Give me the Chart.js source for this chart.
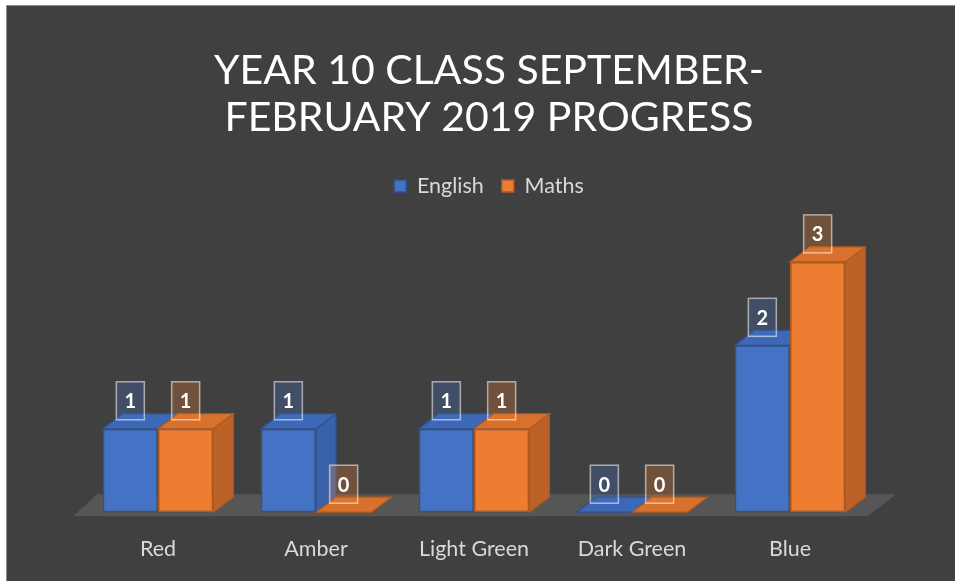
<!DOCTYPE html>
<html>
<head>
<meta charset="utf-8">
<script src="https://cdn.jsdelivr.net/npm/chart.js@4.4.0/dist/chart.umd.min.js"></script>
<style>
  html, body { margin: 0; background: #fff; overflow: hidden; }
  #frame {
    position: absolute; left: 6px; top: 5px;
    width: 965px; height: 576px;
    background: #404040;
    border-top: 1px solid #8c8c8c;
    border-left: 1px solid #8c8c8c;
  }
  #box { position: relative; width: 964px; height: 575px; }
</style>
</head>
<body>
<div id="frame"><div id="box"><canvas id="chart"></canvas></div></div>
<script>
// data
const categories = ['Red', 'Amber', 'Light Green', 'Dark Green', 'Blue'];
const english = [1, 1, 1, 0, 2];
const maths = [1, 0, 1, 0, 3];
const titleLines = ['YEAR 10 CLASS SEPTEMBER-', 'FEBRUARY 2019 PROGRESS'];

// colours for the 3d faces, per series
const front = ['#4472C4', '#ED7D31'];
const edge = ['#2F528F', '#AE5A21'];
const side = ['#3A62A9', '#BD6227'];
const top3d = ['#3D68B8', '#D8712C'];
const labelFill = ['rgba(68,114,196,0.28)', 'rgba(237,125,49,0.28)'];

const dx = 20, dy = 15;

function poly(ctx, pts, fill, stroke) {
    ctx.beginPath();
    ctx.moveTo(pts[0][0], pts[0][1]);
    for (let k = 1; k < pts.length; k++) ctx.lineTo(pts[k][0], pts[k][1]);
    ctx.closePath();
    ctx.fillStyle = fill;
    ctx.fill();
    if (stroke) {
        ctx.strokeStyle = stroke;
        ctx.lineWidth = 1.2;
        ctx.stroke();
    }
}

// floor + side/top faces, drawn before the front faces
const cubes = {
    id: 'cubes',
    beforeDatasetsDraw(chart) {
        const ctx = chart.ctx;
        const a = chart.chartArea;
        const y0 = chart.scales.y.getPixelForValue(0);
        ctx.save();
        poly(ctx, [[a.left - 6, y0 + 4], [a.right - 1, y0 + 4], [a.right + 27, y0 - 18], [a.left + 18, y0 - 18]], '#565656');
        chart.data.datasets.forEach((ds, i) => {
            chart.getDatasetMeta(i).data.forEach(bar => {
                const p = bar.getProps(['x', 'y', 'base', 'width'], true);
                const l = p.x - p.width / 2, r = p.x + p.width / 2;
                poly(ctx, [[r, p.y], [r + dx, p.y - dy], [r + dx, p.base - dy], [r, p.base]], side[i], edge[i]);
                poly(ctx, [[l, p.y], [r, p.y], [r + dx, p.y - dy], [l + dx, p.y - dy]], top3d[i], edge[i]);
            });
        });
        ctx.restore();
    },
    afterDatasetsDraw(chart) {
        const ctx = chart.ctx;
        ctx.save();
        chart.data.datasets.forEach((ds, i) => {
            chart.getDatasetMeta(i).data.forEach((bar, j) => {
                const cx = bar.x, cy = bar.y - 28;
                ctx.fillStyle = labelFill[i];
                ctx.fillRect(cx - 14, cy - 19, 28, 38);
                ctx.strokeStyle = 'rgba(255,255,255,0.55)';
                ctx.lineWidth = 1.5;
                ctx.strokeRect(cx - 14, cy - 19, 28, 38);
                ctx.fillStyle = '#ffffff';
                ctx.font = 'bold 20px Lato';
                ctx.textAlign = 'center';
                ctx.textBaseline = 'middle';
                ctx.fillText(ds.data[j], cx, cy + 1);
            });
        });
        ctx.restore();
    }
};

// invisible axes that only reserve room left and right of the plot
const spacer = (w, pos) => ({
    position: pos,
    display: true,
    min: 0,
    max: 3.66,
    grid: { display: false },
    border: { display: false },
    ticks: { display: false },
    afterFit(scale) { scale.width = w; }
});

new Chart(document.querySelector('#chart'), {
    type: 'bar',
    data: {
        labels: categories,
        datasets: [
            { label: 'English', data: english, backgroundColor: front[0], borderColor: edge[0], borderWidth: 1.5, borderSkipped: false },
            { label: 'Maths', data: maths, backgroundColor: front[1], borderColor: edge[1], borderWidth: 1.5, borderSkipped: false }
        ]
    },
    options: {
        responsive: true,
        maintainAspectRatio: false,
        animation: false,
        categoryPercentage: 0.7,
        barPercentage: 1,
        layout: { padding: { left: 0, right: 0, top: 0, bottom: 3 } },
        plugins: {
            title: {
                display: true,
                text: titleLines,
                color: '#ffffff',
                font: { family: 'Lato', size: 41, weight: 'normal', lineHeight: 1.15 },
                padding: { top: 41, bottom: 16 }
            },
            legend: {
                position: 'top',
                labels: {
                    color: '#d9d9d9',
                    font: { family: 'Lato', size: 21.5 },
                    boxWidth: 12,
                    boxHeight: 12,
                    padding: 18
                }
            },
            tooltip: { enabled: false }
        },
        scales: {
            x: {
                grid: { display: false },
                border: { display: false },
                ticks: { color: '#d9d9d9', font: { family: 'Lato', size: 21.5 }, padding: 16 }
            },
            y: spacer(72, 'left'),
            y2: spacer(102, 'right')
        }
    },
    plugins: [cubes]
});
</script>
</body>
</html>
